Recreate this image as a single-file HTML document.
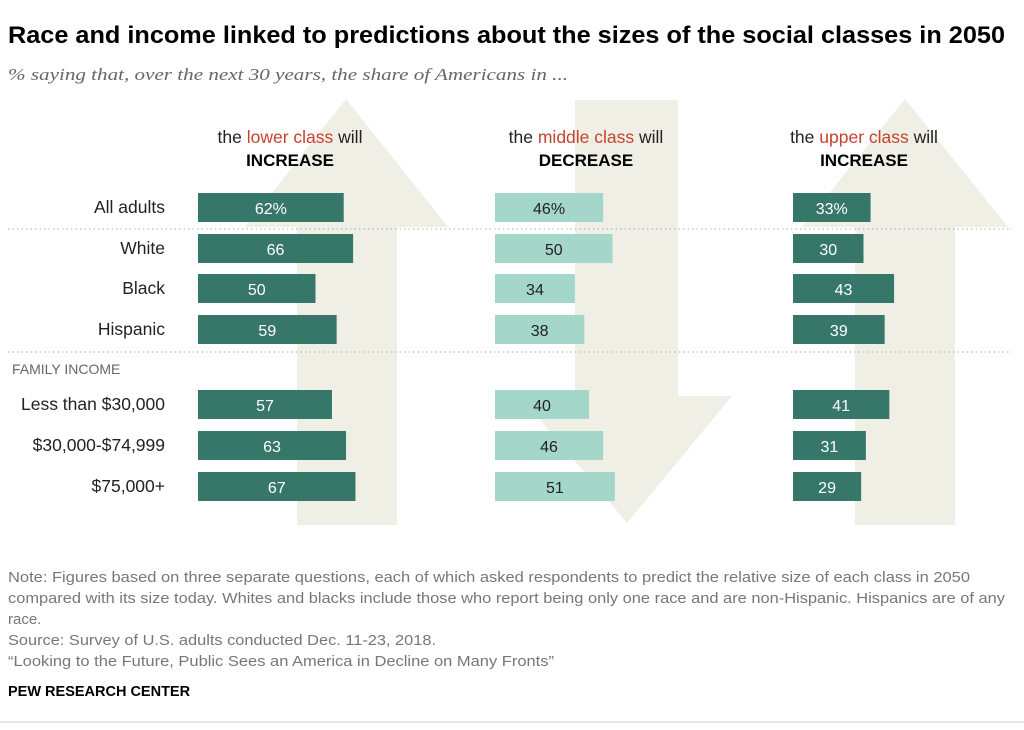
<!DOCTYPE html>
<html><head><meta charset="utf-8"><style>
body{margin:0;background:#fff;font-family:"Liberation Sans",sans-serif;}
svg text{font-family:"Liberation Sans",sans-serif;}
</style></head><body>
<svg id="chart" width="1024" height="725">
<text x="8" y="43" font-size="24.5" font-weight="bold" fill="#000" textLength="997" lengthAdjust="spacingAndGlyphs">Race and income linked to predictions about the sizes of the social classes in 2050</text>
<text x="8" y="80" font-size="17" font-style="italic" fill="#666" textLength="560" lengthAdjust="spacingAndGlyphs" style="font-family:'Liberation Serif',serif">% saying that, over the next 30 years, the share of Americans in ...</text>
<g id="arrows"></g>
<line x1="8" y1="229" x2="1012" y2="229" stroke="#aaa" stroke-dasharray="1.5,3"/>
<line x1="8" y1="352" x2="1012" y2="352" stroke="#aaa" stroke-dasharray="1.5,3"/>
<text x="12" y="374" font-size="14" fill="#666">FAMILY INCOME</text>
<g id="bars"></g>
<g font-size="15" fill="#777">
<text x="8" y="582" textLength="962" lengthAdjust="spacingAndGlyphs">Note: Figures based on three separate questions, each of which asked respondents to predict the relative size of each class in 2050</text>
<text x="8" y="603" textLength="997" lengthAdjust="spacingAndGlyphs">compared with its size today. Whites and blacks include those who report being only one race and are non-Hispanic. Hispanics are of any</text>
<text x="8" y="624">race.</text>
<text x="8" y="645" textLength="428" lengthAdjust="spacingAndGlyphs">Source: Survey of U.S. adults conducted Dec. 11-23, 2018.</text>
<text x="8" y="666" textLength="546" lengthAdjust="spacingAndGlyphs">“Looking to the Future, Public Sees an America in Decline on Many Fronts”</text>
</g>
<text x="8" y="696" font-size="14.5" font-weight="bold" fill="#000">PEW RESEARCH CENTER</text>
<line x1="0" y1="722" x2="1024" y2="722" stroke="#ccc"/>
</svg>
<script>
const rows=["All adults","White","Black","Hispanic","Less than $30,000","$30,000-$74,999","$75,000+"];
const lowerIncrease=[62,66,50,59,57,63,67];
const middleDecrease=[46,50,34,38,40,46,51];
const upperIncrease=[33,30,43,39,41,31,29];
const rowY=[208,249,289,330,405,446,487];
const NS="http://www.w3.org/2000/svg";
const svg=document.getElementById('chart');
const ag=document.getElementById('arrows');
function mk(t,a,p){const e=document.createElementNS(NS,t);for(const k in a)e.setAttribute(k,a[k]);(p||svg).appendChild(e);return e;}
const fill="#efefe6";
let a1=mk('polygon',{points:"346,99 448,227 397,227 397,525 297,525 297,227 245,227",fill:fill},ag);


let a2=mk('polygon',{points:"575,100 678,100 678,396 732,396 627,523 520,396 575,396",fill:fill},ag);


let a3=mk('polygon',{points:"905,99 1008,227 955,227 955,525 855,525 855,227 802,227",fill:fill},ag);


const cols=[
 {x0:198,vals:lowerIncrease,color:"#36776a",txt:"#fff",cx:290,word:"lower class",verb:"INCREASE",name:"lower"},
 {x0:495,vals:middleDecrease,color:"#a4d6ca",txt:"#222",cx:586,word:"middle class",verb:"DECREASE",name:"middle"},
 {x0:793,vals:upperIncrease,color:"#36776a",txt:"#fff",cx:864,word:"upper class",verb:"INCREASE",name:"upper"}];
const scale=v=>v*2.35;
const bg=document.getElementById('bars');
cols.forEach(c=>{
 const h=mk('text',{x:c.cx,y:143,'font-size':17.5,'text-anchor':'middle',fill:'#222'});
 
 
 h.innerHTML='the <tspan fill="#c8422c">'+c.word+'</tspan> will';
 const v=mk('text',{x:c.cx,y:166,'font-size':17,'font-weight':'bold','text-anchor':'middle',fill:'#000'});
 
 
 v.textContent=c.verb;
 c.vals.forEach((val,i)=>{
  const w=scale(val);
  const r=mk('rect',{x:c.x0,y:rowY[i]-15,width:w,height:29,fill:c.color},bg);
  
  
  const t=mk('text',{x:c.x0+w/2,y:rowY[i]+6,'font-size':16,'text-anchor':'middle',fill:c.txt},bg);
  
  
  t.textContent=val+(i===0?'%':'');
 });
});
rows.forEach((r,i)=>{
 const t=mk('text',{x:165,y:rowY[i]+5,'font-size':17.5,'text-anchor':'end',fill:'#222'});
 
 
 t.textContent=r;
});
</script>
</body></html>
